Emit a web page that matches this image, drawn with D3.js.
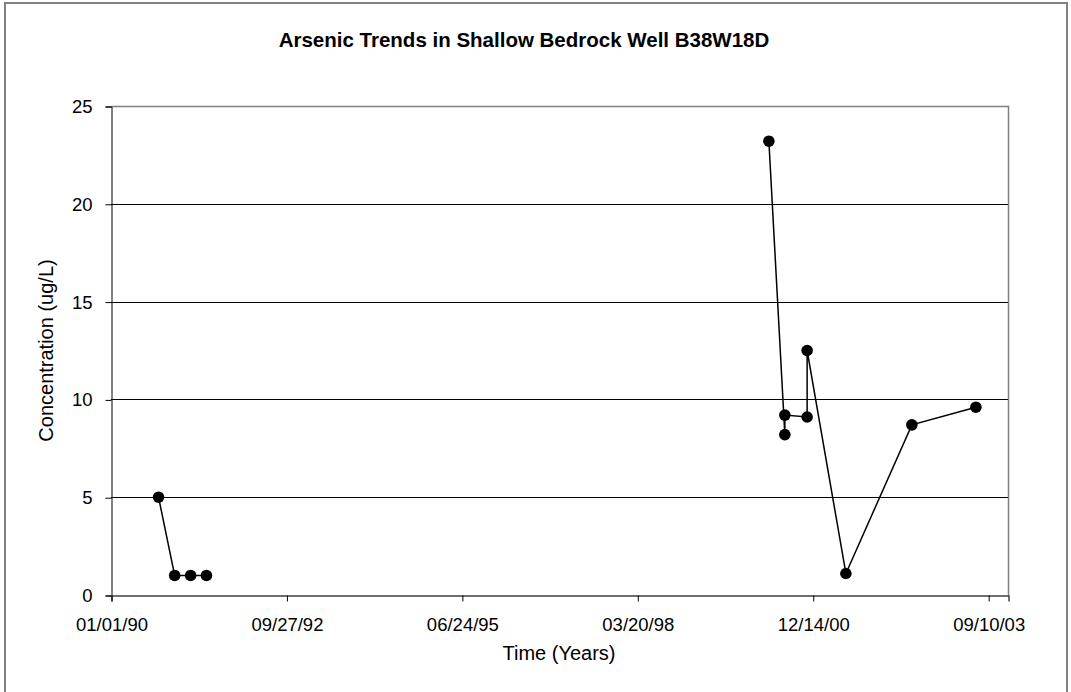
<!DOCTYPE html>
<html>
<head>
<meta charset="utf-8">
<script src="https://cdn.jsdelivr.net/npm/d3@7"></script>
<style>
  body { margin: 0; background: #fff; overflow: hidden; }
  text { font-family: "Liberation Sans", Arial, sans-serif; fill: #000; }
</style>
</head>
<body>
<div id="chart"></div>
<script>
// arsenic samples (ug/L); the two sampling periods are drawn as separate lines
var earlyDates = ["1990-09-29", "1990-12-30", "1991-03-31", "1991-06-29"];
var earlyValues = [5, 1, 1, 1];
var lateDates = ["2000-04-08", "2000-07-08", "2000-07-08", "2000-11-12",
                 "2000-11-12", "2001-06-21", "2002-07-02", "2003-07-02"];
var lateValues = [23.2, 8.2, 9.2, 9.1, 12.5, 1.1, 8.7, 9.6];
var yTicks = [0, 5, 10, 15, 20, 25];
var xTickLabels = ["01/01/90", "09/27/92", "06/24/95", "03/20/98", "12/14/00", "09/10/03"];

var parse = d3.timeParse("%Y-%m-%d");
var fmt = d3.timeFormat("%m/%d/%y");
var tickParse = d3.timeParse("%m/%d/%y");

function toSeries(dates, values) {
  return dates.map(function(d, i) { return {date: parse(d), value: values[i]}; });
}
var series = [toSeries(earlyDates, earlyValues), toSeries(lateDates, lateValues)];
var xTickDates = xTickLabels.map(function(t) { return tickParse(t); });

var W = 1071, H = 692;
var margin = {top: 106, right: 63, bottom: 97, left: 111},
    width = W - margin.left - margin.right,
    height = H - margin.top - margin.bottom;

var svg = d3.select("#chart").append("svg")
    .attr("width", W)
    .attr("height", H)
    .style("display", "block");

// outer chart border (bottom edge sits below the visible area)
svg.append("rect")
    .attr("x", 5).attr("y", 3)
    .attr("width", 1062).attr("height", 700)
    .attr("fill", "none")
    .attr("stroke", "#808080")
    .attr("stroke-width", 2);

var g = svg.append("g")
    .attr("transform", "translate(" + margin.left + "," + margin.top + ")");

var x = d3.scaleTime()
    .domain([xTickDates[0], d3.timeDay.offset(xTickDates[0], 5113)])
    .range([0, width]);

var y = d3.scaleLinear()
    .domain([0, 25])
    .range([height, 0]);

// plot frame (top/right gray)
g.append("path")
    .attr("d", "M0.5,0.5H" + (width + 0.5) + "V" + (height + 0.5))
    .attr("fill", "none")
    .attr("stroke", "#808080")
    .attr("stroke-width", 1.5);

// gridlines
g.selectAll(".grid")
    .data(yTicks.filter(function(v) { return v > 0 && v < 25; }))
  .enter().append("line")
    .attr("x1", 0).attr("x2", width)
    .attr("y1", function(d) { return Math.round(y(d)) + 0.5; })
    .attr("y2", function(d) { return Math.round(y(d)) + 0.5; })
    .attr("stroke", "#000")
    .attr("stroke-width", 1);

// Y axis
var yAxis = g.append("g")
    .attr("transform", "translate(0.5,0.5)")
    .call(d3.axisLeft(y).tickValues(yTicks).tickSize(6).tickPadding(13));
yAxis.selectAll("text").attr("font-size", "18.5px");
yAxis.select(".domain").attr("stroke", "#000");

// X axis
var xAxis = g.append("g")
    .attr("transform", "translate(0.5," + (height + 0.5) + ")")
    .call(d3.axisBottom(x).tickValues(xTickDates).tickFormat(fmt).tickSize(6).tickPadding(16));
xAxis.selectAll("text").attr("font-size", "18.5px");
xAxis.select(".domain").attr("stroke", "#404040").attr("stroke-width", 1.5);

var line = d3.line()
    .x(function(d) { return x(d.date); })
    .y(function(d) { return y(d.value); });

// data lines
g.selectAll(".series")
    .data(series)
  .enter().append("path")
    .attr("fill", "none")
    .attr("stroke", "#000")
    .attr("stroke-width", 1.5)
    .attr("d", line);

// markers
g.selectAll(".pt")
    .data(d3.merge(series))
  .enter().append("circle")
    .attr("cx", function(d) { return x(d.date); })
    .attr("cy", function(d) { return y(d.value); })
    .attr("r", 5.8)
    .attr("fill", "#000");

// title
svg.append("text")
    .attr("x", 524)
    .attr("y", 47)
    .attr("text-anchor", "middle")
    .attr("font-size", "20.5px")
    .attr("font-weight", "bold")
    .text("Arsenic Trends in Shallow Bedrock Well B38W18D");

// axis titles
svg.append("text")
    .attr("x", 559)
    .attr("y", 660)
    .attr("text-anchor", "middle")
    .attr("font-size", "20px")
    .text("Time (Years)");

svg.append("text")
    .attr("transform", "translate(53," + (margin.top + height / 2) + ") rotate(-90)")
    .attr("text-anchor", "middle")
    .attr("font-size", "20px")
    .text("Concentration (ug/L)");
</script>
</body>
</html>
